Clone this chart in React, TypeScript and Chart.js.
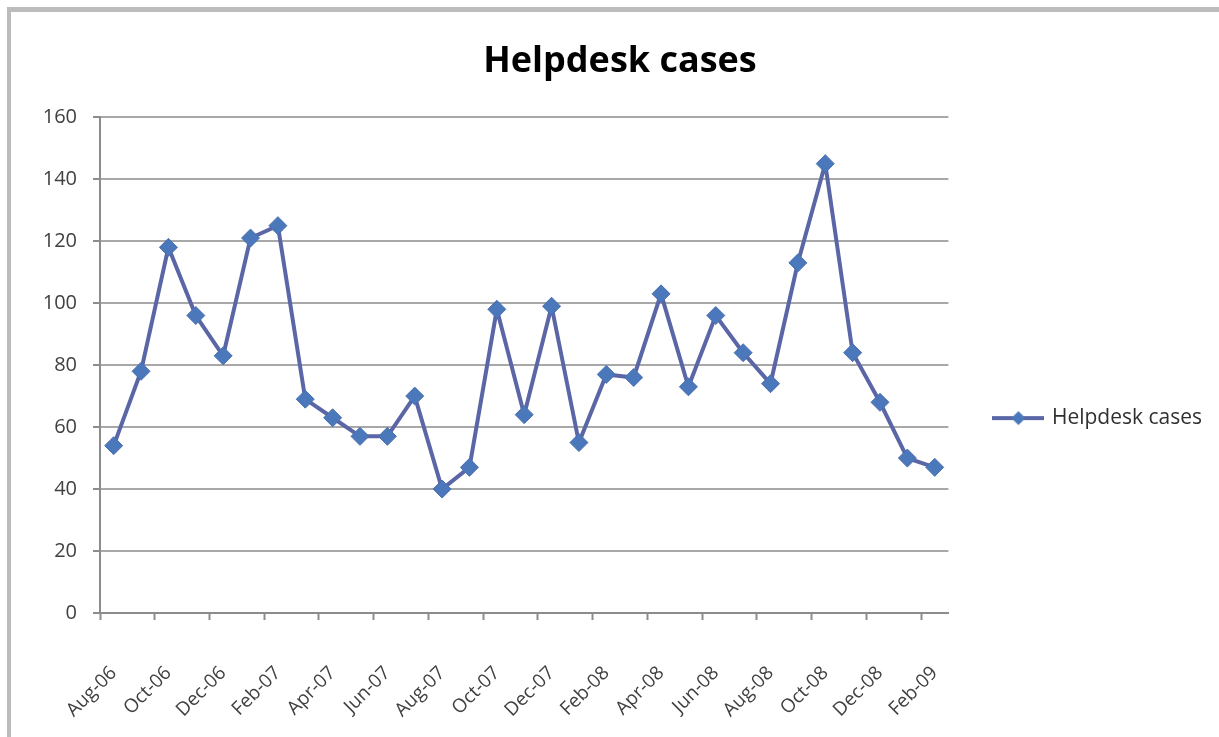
import React, { useEffect, useRef } from "react";
import { Chart, registerables } from "chart.js";

Chart.register(...registerables);

const categories: string[] = [
  "Aug-06", "Sep-06", "Oct-06", "Nov-06", "Dec-06", "Jan-07", "Feb-07", "Mar-07",
  "Apr-07", "May-07", "Jun-07", "Jul-07", "Aug-07", "Sep-07", "Oct-07", "Nov-07",
  "Dec-07", "Jan-08", "Feb-08", "Mar-08", "Apr-08", "May-08", "Jun-08", "Jul-08",
  "Aug-08", "Sep-08", "Oct-08", "Nov-08", "Dec-08", "Jan-09", "Feb-09",
];

const helpdeskCases: number[] = [
  54, 78, 118, 96, 83, 121, 125, 69, 63, 57, 57, 70, 40, 47, 98, 64,
  99, 55, 77, 76, 103, 73, 96, 84, 74, 113, 145, 84, 68, 50, 47,
];

const seriesName = "Helpdesk cases";
const chartTitle = "Helpdesk cases";

const LINE_COLOR = "#5a66a6";
const MARKER_COLOR = "#4a78ba";
const FONT = "'Open Sans', sans-serif";

export default function App() {
  const canvasRef = useRef<HTMLCanvasElement | null>(null);

  useEffect(() => {
    if (!canvasRef.current) return;

    const legendImg = document.createElement("canvas");
    legendImg.width = 52;
    legendImg.height = 18;
    const lc = legendImg.getContext("2d")!;
    lc.strokeStyle = LINE_COLOR;
    lc.lineWidth = 4;
    lc.beginPath();
    lc.moveTo(0, 9);
    lc.lineTo(52, 9);
    lc.stroke();
    lc.fillStyle = MARKER_COLOR;
    lc.beginPath();
    lc.moveTo(26, 2);
    lc.lineTo(33, 9);
    lc.lineTo(26, 16);
    lc.lineTo(19, 9);
    lc.closePath();
    lc.fill();

    const chart = new Chart(canvasRef.current, {
      type: "line",
      data: {
        labels: categories,
        datasets: [
          {
            label: seriesName,
            data: helpdeskCases,
            borderColor: LINE_COLOR,
            backgroundColor: MARKER_COLOR,
            borderWidth: 4,
            tension: 0,
            pointStyle: "rectRot",
            pointRadius: 9,
            pointBackgroundColor: MARKER_COLOR,
            pointBorderColor: "#4a70b0",
            pointBorderWidth: 1,
          },
        ],
      },
      options: {
        responsive: false,
        animation: false,
        layout: { padding: { left: 28, right: 7, top: 0, bottom: 0 } },
        plugins: {
          title: {
            display: true,
            text: chartTitle,
            color: "#000000",
            font: { family: FONT, size: 36, weight: "bold" },
            padding: { top: 40, bottom: 34 },
          },
          legend: {
            display: true,
            position: "right",
            align: "center",
            title: {
              display: true,
              text: " ",
              font: { size: 1 },
              padding: { top: 0, bottom: 98 },
            },
            labels: {
              usePointStyle: true,
              pointStyle: legendImg as any,
              pointStyleWidth: 46,
              padding: 47,
              color: "#303030",
              font: { family: FONT, size: 21 },
            },
          },
          tooltip: { enabled: false },
        },
        scales: {
          x: {
            type: "category",
            offset: true,
            afterFit: (scale: any) => {
              scale.height = 124;
            },
            grid: {
              offset: true,
              drawOnChartArea: false,
              drawTicks: true,
              tickLength: 7,
              tickWidth: 2,
              tickColor: (ctx: any) => (ctx.index % 2 === 0 ? "#8c8c8c" : "rgba(0,0,0,0)"),
            },
            border: { display: true, color: "#8c8c8c", width: 2 },
            ticks: {
              autoSkip: false,
              maxRotation: 45,
              minRotation: 45,
              padding: 42,
              color: "#404040",
              font: { family: FONT, size: 19 },
              callback: (_v: any, i: number) => (i % 2 === 0 ? categories[i] : ""),
            },
          },
          y: {
            min: 0,
            max: 160,
            afterFit: (scale: any) => {
              scale.width = 72;
            },
            grid: {
              color: "#a8a8a8",
              lineWidth: 2,
              tickLength: 7,
              tickColor: "#8c8c8c",
            },
            border: { display: true, color: "#8c8c8c", width: 2 },
            ticks: {
              stepSize: 20,
              padding: 16,
              color: "#404040",
              font: { family: FONT, size: 20 },
            },
          },
        },
      },
    });

    return () => {
      chart.destroy();
    };
  }, []);

  return (
    <div
      style={{
        position: "fixed",
        left: 0,
        top: 0,
        width: 1219,
        height: 737,
        background: "#ffffff",
        overflow: "hidden",
      }}
    >
      <div
        style={{
          position: "absolute",
          left: 7,
          top: 7,
          right: 0,
          bottom: 0,
          borderTop: "5px solid #bcbcbc",
          borderLeft: "4px solid #bcbcbc",
        }}
      />
      <canvas
        ref={canvasRef}
        width={1219}
        height={737}
        style={{ position: "absolute", left: 0, top: 0, width: 1219, height: 737 }}
      />
    </div>
  );
}
